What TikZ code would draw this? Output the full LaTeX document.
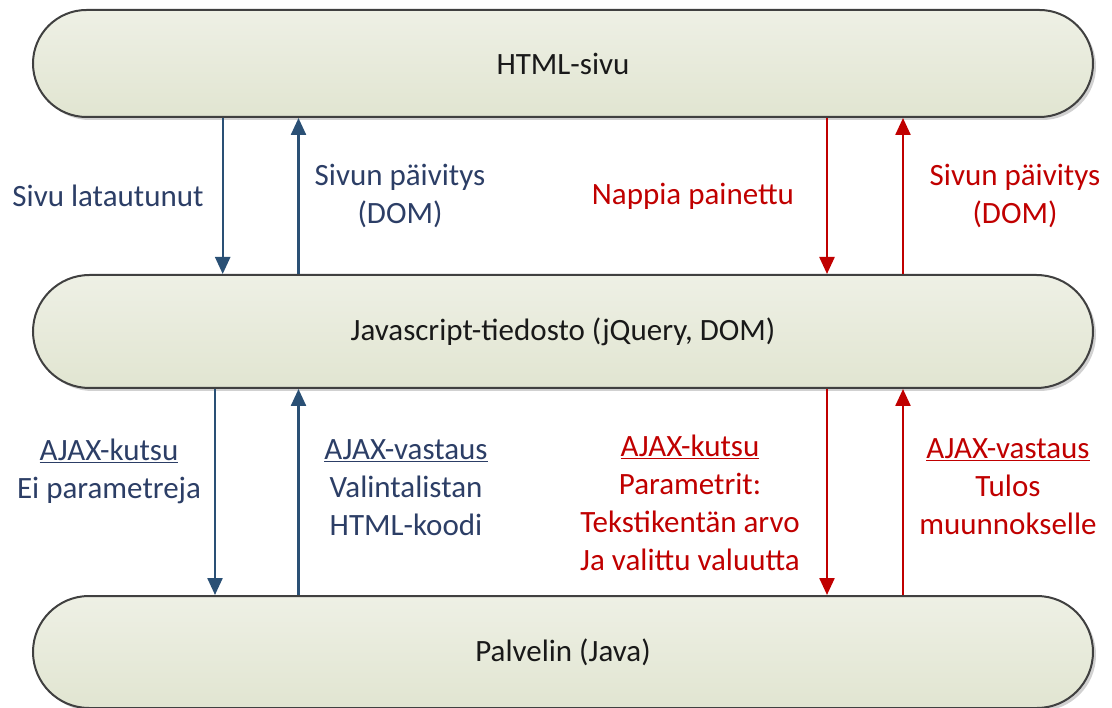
\documentclass[tikz,border=0pt]{standalone}
\usepackage{fontspec}
\setmainfont{Carlito}
\usetikzlibrary{arrows.meta,shadows}
\definecolor{barline}{HTML}{404040}
\definecolor{bartop}{HTML}{EEF0E5}
\definecolor{barbot}{HTML}{E1E5D1}
\definecolor{flowblue}{HTML}{2A5075}
\definecolor{textblue}{HTML}{2C3E66}
\definecolor{flowred}{HTML}{C00000}
\tikzset{
  bar/.style={draw=barline, line width=2pt, top color=bartop, bottom color=barbot,
    minimum width=1060pt, inner sep=0pt,
    drop shadow={shadow xshift=3pt, shadow yshift=-3pt, fill=black!18, opacity=1},
    font=\fontsize{31}{38}\selectfont, text=black!90},
  flow/.style={line width=2.4pt, -{Triangle[width=15pt,length=17pt]}},
  blueflow/.style={flow, draw=flowblue, color=flowblue},
  redflow/.style={flow, draw=flowred, color=flowred},
  lbl/.style={align=center, font=\fontsize{31}{38}\selectfont, inner sep=0pt},
  bluelbl/.style={lbl, text=textblue},
  redlbl/.style={lbl, text=flowred},
}
\begin{document}
\begin{tikzpicture}[x=1pt,y=-1pt]
\useasboundingbox (0,0) rectangle (1112,708);

% the three layers
\node[bar, minimum height=107pt, rounded corners=53.5pt] (html) at (563,63.5) {HTML-sivu};
\node[bar, minimum height=113pt, rounded corners=56.5pt] (js) at (563,331.5) {Javascript-tiedosto (jQuery, DOM)};
\node[bar, minimum height=112pt, rounded corners=56pt] (srv) at (563,652) {Palvelin (Java)};

% x positions of the message lanes
\coordinate (bA) at (222.7,0);
\coordinate (bB) at (298.5,0);
\coordinate (bC) at (215,0);
\coordinate (rA) at (827,0);
\coordinate (rB) at (903,0);

% page <-> script
\draw[blueflow] (html.south -| bA) -- (js.north -| bA);
\draw[blueflow] (js.north -| bB) -- (html.south -| bB);
\draw[redflow] (html.south -| rA) -- (js.north -| rA);
\draw[redflow] (js.north -| rB) -- (html.south -| rB);

% script <-> server
\draw[blueflow] (js.south -| bC) -- (srv.north -| bC);
\draw[blueflow] (srv.north -| bB) -- (js.south -| bB);
\draw[redflow] (js.south -| rA) -- (srv.north -| rA);
\draw[redflow] (srv.north -| rB) -- (js.south -| rB);

% labels
\node[bluelbl] (l1) at (108,196) {Sivu latautunut};
\node[bluelbl] (l2) at (400,196) {Sivun päivitys\\(DOM)};
\node[redlbl] (l3) at (693,196) {Nappia painettu};
\node[redlbl] (l4) at (1015,196) {Sivun päivitys\\(DOM)};

\node[bluelbl] (l5) at (109,471) {\underline{AJAX-kutsu}\\Ei parametreja};
\node[bluelbl] (l6) at (406,488) {\underline{AJAX-vastaus}\\Valintalistan\\HTML-koodi};
\node[redlbl] (l7) at (690,503) {\underline{AJAX-kutsu}\\Parametrit:\\Tekstikentän arvo\\Ja valittu valuutta};
\node[redlbl] (l8) at (1008,487) {\underline{AJAX-vastaus}\\Tulos\\muunnokselle};
\end{tikzpicture}
\end{document}
